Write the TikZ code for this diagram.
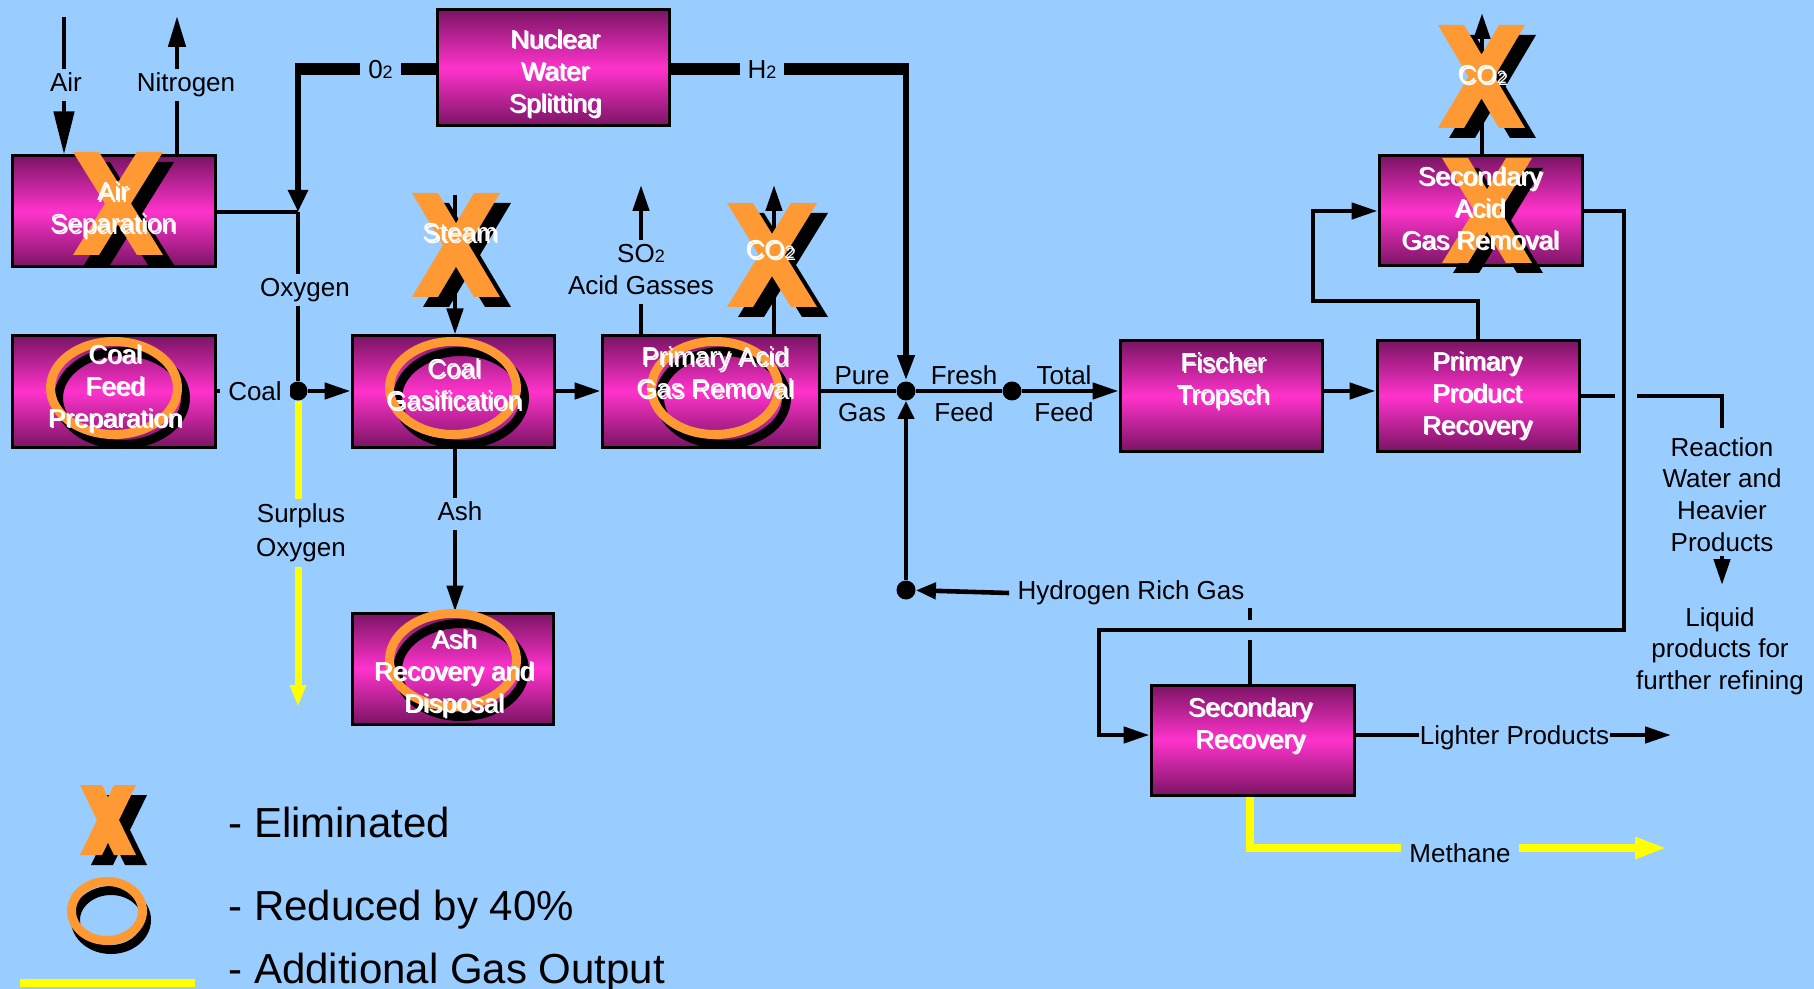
\documentclass[tikz,border=0pt]{standalone}
\usepackage{fontspec}
\setmainfont{Liberation Sans}
\usetikzlibrary{arrows.meta,calc}
\pgfdeclarelayer{bgl}
\pgfdeclarelayer{lines}
\pgfsetlayers{bgl,lines,main}
\definecolor{bg}{RGB}{153,204,255}
\definecolor{xorange}{RGB}{255,153,51}
\definecolor{boxmag}{RGB}{255,51,204}
\definecolor{boxdark}{RGB}{122,20,100}
\definecolor{ylw}{RGB}{255,255,0}
\newsavebox\shbox
\newcommand\mlines[1]{\begin{tabular}{@{}c@{}}#1\end{tabular}}
\newcommand\shtxt[1]{\sbox\shbox{\mlines{#1}}\rlap{\kern0.8pt\raisebox{-0.8pt}{\color{black}\usebox\shbox}}\usebox\shbox}
\newcommand\smtwo{{\fontsize{9pt}{9pt}\selectfont 2}}
\newcommand\xpath[3]{(-#1/2,-#2/2) -- ({-#1/2+#3},-#2/2) -- (0,{-#2/2+#2*(#1-2*#3)/(2*(#1-#3))}) -- ({#1/2-#3},-#2/2) -- (#1/2,-#2/2) -- ({#3/2},0) -- (#1/2,#2/2) -- ({#1/2-#3},#2/2) -- (0,{#2/2-#2*(#1-2*#3)/(2*(#1-#3))}) -- ({-#1/2+#3},#2/2) -- (-#1/2,#2/2) -- ({-#3/2},0) -- cycle}
\tikzset{
  ln/.style={draw=black, line width=2.3pt},
  thk/.style={draw=black, line width=6pt},
  med/.style={draw=black, line width=3.2pt},
  arr/.style={-{Triangle[length=13pt,width=8pt]}},
  yln/.style={draw=ylw, line width=3.5pt},
  box/.style={draw=black, line width=1.5pt, top color=boxdark, bottom color=boxdark, middle color=boxmag, inner sep=0pt},
  btxt/.style={text=white, font=\fontsize{13pt}{16pt}\selectfont, inner sep=0pt},
  lab/.style={fill=bg, inner xsep=4pt, inner ysep=0pt, font=\fontsize{13pt}{16pt}\selectfont},
  labnf/.style={inner xsep=4pt, inner ysep=0pt, font=\fontsize{13pt}{16pt}\selectfont},
  dot/.style={circle, fill=black, minimum size=9.5pt, inner sep=0pt},
  legtxt/.style={anchor=base west, inner sep=0pt, font=\fontsize{21pt}{25pt}\selectfont},
  pics/xm/.style n args={3}{code={
    \begin{scope}[shift={(11,10)}]\fill[black] \xpath{#1}{#2}{#3};\end{scope}
    \fill[xorange] \xpath{#1}{#2}{#3};}},
  pics/rg/.style n args={3}{code={
    \draw[black, line width=4.5pt] (#3) ellipse [x radius=#1, y radius=#2];
    \draw[xorange, line width=4.5pt] (0,0) ellipse [x radius=#1, y radius=#2];}}
}
\begin{document}
\begin{tikzpicture}[x=0.5pt, y=-0.5pt, line join=miter]
\useasboundingbox (0,0) rectangle (1814,989);
\clip (0,0) rectangle (1814,989);
\begin{pgfonlayer}{bgl}
\fill[bg] (0,0) rectangle (1814,989);
\end{pgfonlayer}

% ---------- boxes ----------
\node[box, minimum width=101.5pt, minimum height=55.5pt] (asu)  at (113.5,211.5) {};
\node[box, minimum width=116pt,   minimum height=58pt]   (nws)  at (553,68) {};
\node[box, minimum width=101.5pt, minimum height=55.5pt] (cfp)  at (113.5,391.5) {};
\node[box, minimum width=101pt,   minimum height=55.5pt] (cg)   at (453,391.5) {};
\node[box, minimum width=100.5pt, minimum height=55.5pt] (ash)  at (452.5,668.5) {};
\node[box, minimum width=108.5pt, minimum height=55.5pt] (paga) at (710.5,391.5) {};
\node[box, minimum width=101pt,   minimum height=55pt]   (ft)   at (1221,396) {};
\node[box, minimum width=101pt,   minimum height=55pt]   (ppr)  at (1478,396) {};
\node[box, minimum width=101.5pt, minimum height=55pt]   (saga) at (1480.5,211) {};
\node[box, minimum width=101.5pt, minimum height=55pt]   (sr)   at (1252.5,740) {};

% ---------- junction dots ----------
\node[dot] (coaldot) at (298,391) {};
\node[dot] (jn)      at (906,391) {};
\node[dot] (jn2)     at (1012,391) {};
\node[dot] (hrd)     at (906,590) {};

% ---------- coordinates ----------
\coordinate (airtop)  at (64,17);
\coordinate (ntop)    at (177,16);
\coordinate (o2j)     at (298,212);
\coordinate (o2c)     at (298,69);
\coordinate (h2c)     at (906,69);
\coordinate (surptip) at (298,707);
\coordinate (steamtop) at (455,195);
\coordinate (ashx)    at (455,0);
\coordinate (so2top)  at (641,185);
\coordinate (co2top)  at (774,185);
\coordinate (co2btop) at (1482,13);
\coordinate (lp1)     at (1313,301);
\coordinate (gapA)    at (1615,396);
\coordinate (gapB)    at (1637,396);
\coordinate (rwtop)   at (1722,428);
\coordinate (rl1)     at (1624,630);
\coordinate (rl2)     at (1099,630);
\coordinate (hx)      at (1250,0);
\coordinate (hg1)     at (1250,640);
\coordinate (hg2)     at (1250,620);
\coordinate (htop)    at (1250,608);
\coordinate (lptip)   at (1671,735);
\coordinate (mtip)    at (1667,848);
\coordinate (liqa)    at (1722,556);
\coordinate (liqt)    at (1722,585);

% ---------- rings (reduced by 40%) ----------
\pic at (114,388) {rg={31.75pt}{23.25pt}{8,10}};
\pic at (453,388) {rg={31.75pt}{23.25pt}{8,10}};
\pic at (453,660) {rg={31.75pt}{23.25pt}{8,10}};
\pic at (715,388) {rg={31.75pt}{23.25pt}{8,10}};

% ---------- X marks (eliminated) ----------
\pic at (118,203.5)   {xm={90}{103}{26}};
\pic at (456,245)     {xm={88}{104}{26}};
\pic at (772,255)     {xm={90}{104}{26}};
\pic at (1481.5,76.5) {xm={87}{103}{26}};
\pic at (1487,210.5)  {xm={90}{105}{26}};

% ---------- box texts ----------
\node[btxt] (t-asu)  at (113,211)    {\shtxt{Air\\Separation}};
\node[btxt] (t-nws)  at (555,74.5)   {\shtxt{Nuclear\\Water\\Splitting}};
\node[btxt] (t-cfp)  at (115,389.5)  {\shtxt{Coal\\Feed\\Preparation}};
\node[btxt] (t-cg)   at (454,388)    {\shtxt{Coal\\Gasification}};
\node[btxt] (t-ash)  at (454,674.5)  {\shtxt{Ash\\Recovery and\\Disposal}};
\node[btxt] (t-paga) at (715,376)    {\shtxt{Primary Acid\\Gas Removal}};
\node[btxt] (t-ft)   at (1223,382)   {\shtxt{Fischer\\Tropsch}};
\node[btxt] (t-ppr)  at (1477,396.5) {\shtxt{Primary\\Product\\Recovery}};
\node[btxt] (t-saga) at (1480,211.5) {\shtxt{Secondary\\Acid\\Gas Removal}};
\node[btxt] (t-sr)   at (1250,726.5) {\shtxt{Secondary\\Recovery}};
\node[btxt] (t-steam) at (460,236)   {\shtxt{Steam}};
\node[btxt] (t-co2a) at (770,253)    {\shtxt{CO\smtwo}};
\node[btxt] (t-co2b) at (1482,78)    {\shtxt{CO\smtwo}};

% ---------- stream labels ----------
\node[lab] (lair)  at (66,85)   {\mlines{Air}};
\node[lab] (lnit)  at (186,85)  {\mlines{Nitrogen}};
\node[lab] (lo2)   at (380.5,72) {\mlines{0\smtwo}};
\node[lab] (lh2)   at (762,72)  {\mlines{H\smtwo}};
\node[lab] (loxy)  at (305,290) {\mlines{Oxygen}};
\node[lab] (lcoal) at (255,394) {\mlines{Coal}};
\node[lab, font=\fontsize{13pt}{17pt}\selectfont] (lsurp) at (301,532.5) {\mlines{Surplus\\Oxygen}};
\node[lab] (lash)  at (460,514) {\mlines{Ash}};
\node[lab] (lso2)  at (641,272) {\mlines{SO\smtwo\\Acid Gasses}};
\node[labnf, font=\fontsize{13pt}{18.5pt}\selectfont] (lpure)  at (862,395.5)  {\mlines{Pure\\Gas}};
\node[labnf, font=\fontsize{13pt}{18.5pt}\selectfont] (lfresh) at (964,395.5)  {\mlines{Fresh\\Feed}};
\node[labnf, font=\fontsize{13pt}{18.5pt}\selectfont] (ltotal) at (1064,395.5) {\mlines{Total\\Feed}};
\node[labnf] (lhr)  at (1131,593)   {\mlines{Hydrogen Rich Gas}};
\node[labnf, font=\fontsize{13pt}{15.85pt}\selectfont] (lrw) at (1722,497.5) {\mlines{Reaction\\Water and\\Heavier\\Products}};
\node[labnf, font=\fontsize{13pt}{15.75pt}\selectfont] (lliq) at (1720,651.5) {\mlines{Liquid\\products for\\further refining}};
\node[lab, inner xsep=0.5pt] (llp) at (1514.5,738) {\mlines{Lighter Products}};
\node[lab] (lmeth) at (1460,856) {\mlines{Methane}};

% ---------- legend ----------
\pic at (108,820) {xm={56}{70}{22}};
\pic at (107,911) {rg={17.75pt}{14.75pt}{4,9}};
\coordinate (legA) at (20,983);
\coordinate (legB) at (195,983);
\draw[ylw, line width=4pt] (legA) -- (legB);
\node[legtxt] (leg1) at (228,837) {- Eliminated};
\node[legtxt] (leg2) at (228,920) {- Reduced by 40\%};
\node[legtxt] (leg3) at (228,983) {- Additional Gas Output};

% ---------- connectors ----------
\begin{pgfonlayer}{lines}
\draw[ln, -{Triangle[length=21.5pt,width=10pt]}] (airtop) -- (airtop |- asu.north);
\draw[ln, -{Triangle[length=15.5pt,width=8.5pt]}] (asu.north -| ntop) -- (ntop);
\draw[ln] (asu.east |- o2j) -- (o2j);
\draw[thk] (nws.west |- o2c) -- ([xshift=-1.6pt]o2c);
\draw[med, -{Triangle[length=11pt,width=9.5pt]}] ([yshift=3pt]o2c) -- (o2j);
\draw[ln] (o2j) -- (coaldot);
\draw[ln] (cfp.east |- coaldot) -- (coaldot);
\draw[ln, arr] (coaldot) -- (cg.west |- coaldot);
\draw[yln, -{Triangle[length=11pt,width=7.5pt]}] (coaldot.south) -- (surptip);
\draw[ln, arr] (steamtop) -- (steamtop |- cg.north);
\draw[ln, arr] (cg.south -| ashx) -- (ash.north -| ashx);
\draw[ln, arr] (cg.east |- coaldot) -- (paga.west |- coaldot);
\draw[ln, arr] (paga.north -| so2top) -- (so2top);
\draw[ln, arr] (paga.north -| co2top) -- (co2top);
\draw[thk] (nws.east |- h2c) -- ([xshift=1.6pt]h2c);
\draw[med, arr] ([yshift=3pt]h2c) -- (jn);
\draw[ln] (paga.east |- jn) -- (jn);
\draw[ln] (jn) -- (jn2);
\draw[ln, arr] (jn2) -- (ft.west |- jn2);
\draw[ln, arr] (ft.east |- jn2) -- (ppr.west |- jn2);
\draw[ln, arr] (ppr.north) |- (lp1) |- (saga.west);
\draw[ln] (ppr.east) -- (gapA);
\draw[ln] (gapB) -| (rwtop);
\draw[ln, arr] (saga.east) -| (rl1) -- (rl2) |- ([yshift=2.5pt]sr.west);
\draw[ln, arr] (saga.north -| co2btop) -- (co2btop);
\draw[ln] (sr.north -| hx) -- (hg1);
\draw[ln] (hg2) -- (htop);
\draw[ln, -{Triangle[length=10pt,width=8pt]}] (lhr.west) -- (hrd);
\draw[ln, -{Triangle[length=9pt,width=8pt]}] (hrd) -- (jn);
\draw[ln, arr] ([yshift=2.5pt]sr.east) -- (lptip);
\draw[yln, line width=4pt, -{Triangle[length=16pt,width=10pt]}] (sr.south -| hx) |- (mtip);
\draw[ln, arr] (liqa) -- (liqt);
\end{pgfonlayer}
\end{tikzpicture}
\end{document}
